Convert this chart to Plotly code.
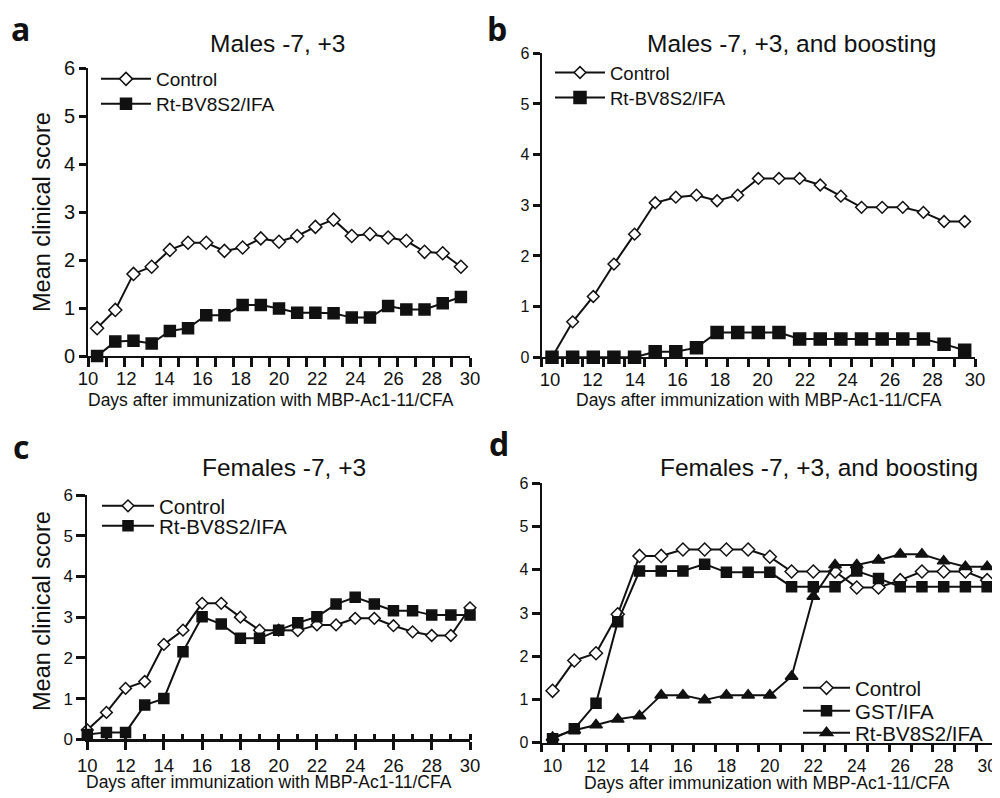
import plotly.graph_objects as go

# ---------------- data ----------------
days = list(range(10, 31))
tick_days = list(range(10, 31, 2))

a_control = [0.58, 0.96, 1.71, 1.86, 2.21, 2.36, 2.36, 2.19, 2.26, 2.45, 2.38,
             2.50, 2.69, 2.84, 2.50, 2.54, 2.47, 2.40, 2.17, 2.14, 1.86]
a_rt = [0.00, 0.30, 0.32, 0.26, 0.52, 0.58, 0.85, 0.85, 1.06, 1.06, 0.99,
        0.90, 0.90, 0.89, 0.80, 0.80, 1.04, 0.97, 0.97, 1.10, 1.23]

b_control = [0.00, 0.70, 1.20, 1.84, 2.43, 3.05, 3.16, 3.20, 3.09, 3.20, 3.53,
             3.53, 3.53, 3.40, 3.18, 2.96, 2.96, 2.96, 2.86, 2.68, 2.68]
b_rt = [0.00, 0.00, 0.00, 0.00, 0.00, 0.11, 0.11, 0.19, 0.49, 0.49, 0.49,
        0.49, 0.36, 0.36, 0.36, 0.36, 0.36, 0.36, 0.36, 0.26, 0.14]

c_control = [0.23, 0.66, 1.25, 1.42, 2.33, 2.68, 3.34, 3.34, 3.00, 2.68, 2.68,
             2.67, 2.81, 2.81, 2.97, 2.97, 2.79, 2.64, 2.55, 2.55, 3.23]
c_rt = [0.12, 0.17, 0.17, 0.84, 1.00, 2.15, 3.01, 2.83, 2.48, 2.48, 2.68,
        2.86, 3.01, 3.32, 3.49, 3.32, 3.16, 3.16, 3.05, 3.05, 3.05]

d_control = [1.20, 1.90, 2.07, 2.97, 4.32, 4.32, 4.47, 4.47, 4.47, 4.47, 4.30,
             3.96, 3.96, 3.96, 3.59, 3.59, 3.76, 3.96, 3.96, 3.96, 3.76]
d_gst = [0.09, 0.32, 0.91, 2.80, 3.97, 3.97, 3.97, 4.13, 3.94, 3.94, 3.94,
         3.61, 3.61, 3.61, 3.97, 3.80, 3.61, 3.61, 3.61, 3.61, 3.61]
d_rt = [0.12, 0.29, 0.41, 0.54, 0.62, 1.10, 1.10, 0.99, 1.10, 1.10, 1.10,
        1.53, 3.38, 4.11, 4.11, 4.22, 4.36, 4.36, 4.20, 4.07, 4.07]

titles = ["Males -7, +3", "Males -7, +3, and boosting",
          "Females -7, +3", "Females -7, +3, and boosting"]
panel_letters = ["a", "b", "c", "d"]
x_title = "Days after immunization with MBP-Ac1-11/CFA"
y_title = "Mean clinical score"
name_control = "Control"
name_rt = "Rt-BV8S2/IFA"
name_gst = "GST/IFA"

# ---------------- style / geometry ----------------
INK = "#111111"
TICK = "#111111"
TW = 3
CLEAR = "rgba(0,0,0,0)"
FONT = "Liberation Sans, Arial, sans-serif"
OFF = 8                      # page body margin
W, H = 1000 - OFF, 798 - OFF


def px(x):
    return (x - OFF) / W


def py(y):
    return 1 - (y - OFF) / H


fig = go.Figure()


def add(xa, ya, yvals, name, symbol, size, fill, legend):
    fig.add_trace(go.Scatter(
        x=days, y=yvals, xaxis=xa, yaxis=ya, name=name,
        mode="lines+markers", cliponaxis=False,
        line=dict(color=INK, width=2),
        marker=dict(symbol=symbol, size=size, color=fill,
                    line=dict(color=INK, width=1.5)),
        legend=legend, showlegend=True))


add("x", "y", a_control, name_control, "diamond", 10, "white", "legend")
add("x", "y", a_rt, name_rt, "square", 11, INK, "legend2")
add("x2", "y2", b_control, name_control, "diamond", 9, "white", "legend3")
add("x2", "y2", b_rt, name_rt, "square", 12, INK, "legend4")
add("x3", "y3", c_control, name_control, "diamond", 9, "white", "legend5")
add("x3", "y3", c_rt, name_rt, "square", 10, INK, "legend6")
add("x4", "y4", d_control, name_control, "diamond", 10, "white", "legend7")
add("x4", "y4", d_gst, name_gst, "square", 10, INK, "legend8")
add("x4", "y4", d_rt, name_rt, "triangle-up", 11, INK, "legend9")


def leg(x, y, size, itemwidth=50):
    return dict(x=px(x), y=py(y), xanchor="left", yanchor="middle",
                bgcolor="rgba(0,0,0,0)", borderwidth=0, itemwidth=itemwidth,
                font=dict(family=FONT, size=size, color=INK),
                tracegroupgap=0, itemclick=False, itemdoubleclick=False)


base_axis = dict(showgrid=False, zeroline=False, showline=True, linecolor=INK,
                 linewidth=2, tickcolor=TICK, tickwidth=TW)

# Excel-style category axis: boundary ticks between the days
bounds = [d - 0.5 for d in days] + [days[-1] + 0.5]
a_lab = [9.5 + (t - 10) * 21 / 20 for t in tick_days]
b_lab = [9.9 + (t - 10) * 20.6 / 20 for t in tick_days]


def cat_x(dom, anchor, label_pos, size, label_gap, minor_len):
    d = dict(base_axis)
    d.update(domain=[px(dom[0]), px(dom[1])], range=[9.5, 30.5], anchor=anchor,
             tickmode="array", tickvals=label_pos,
             ticktext=[str(t) for t in tick_days],
             ticks="outside", ticklen=label_gap, tickcolor=CLEAR,
             tickfont=dict(family=FONT, size=size, color=INK),
             minor=dict(tickmode="array", tickvals=bounds, ticks="outside",
                        ticklen=minor_len, tickwidth=TW, tickcolor=TICK))
    return d


def yax(dom, anchor, size, ticklen=7):
    d = dict(base_axis)
    d.update(domain=[py(dom[0]), py(dom[1])], range=[0, 6], anchor=anchor,
             tickmode="linear", tick0=0, dtick=1, ticks="outside", ticklen=ticklen,
             tickfont=dict(family=FONT, size=size, color=INK))
    return d


layout = dict(
    width=W, height=H, margin=dict(l=0, r=0, t=0, b=0, autoexpand=False),
    paper_bgcolor="white", plot_bgcolor="white", autosize=False,
    xaxis=cat_x((88, 470), "y", a_lab, 18.5, 5, 9),
    yaxis=yax((356, 68), "x", 20),
    xaxis2=cat_x((541.7, 975), "y2", b_lab, 18.5, 4, 8),
    yaxis2=yax((357.3, 53.3), "x2", 16),
    xaxis3=dict(base_axis, domain=[px(87.3), px(470)], range=[10, 30], anchor="y3",
                tickmode="linear", tick0=10, dtick=1, ticks="outside", ticklen=8,
                ticklabelstep=2, linewidth=2.5,
                tickfont=dict(family=FONT, size=18.5, color=INK),
                minor=dict(tickmode="array", tickvals=days, ticks="inside",
                           ticklen=6, tickwidth=TW, tickcolor=TICK)),
    yaxis3=yax((739.3, 495), "x3", 17, ticklen=9),
    xaxis4=cat_x((541.7, 998), "y4", tick_days, 17.5, 6, 7),
    yaxis4=yax((742.7, 483.3), "x4", 16, ticklen=8),
    legend=leg(96, 79, 19),
    legend2=leg(96, 104, 19),
    legend3=leg(550, 73, 18.5),
    legend4=leg(550, 98, 18.5),
    legend5=leg(97, 506, 20.5, 52),
    legend6=leg(97, 526, 20.5, 52),
    legend7=leg(798, 688, 20.5, 47),
    legend8=leg(798, 711, 20.5, 47),
    legend9=leg(798, 733, 20.5, 47),
)

annotations = []
title_pos = [(278, 43), (791, 43), (284, 467), (819, 467)]
for t, (x, y) in zip(titles, title_pos):
    annotations.append(dict(text=t, x=px(x), y=py(y), xref="paper", yref="paper",
                            xanchor="center", yanchor="middle", showarrow=False,
                            font=dict(family=FONT, size=24.5, color=INK)))
letter_pos = [(9, 28), (485, 28), (11, 447), (487, 443)]
for t, (x, y) in zip(panel_letters, letter_pos):
    annotations.append(dict(text="<b>" + t + "</b>", x=px(x), y=py(y), xref="paper",
                            yref="paper", xanchor="left", yanchor="middle",
                            showarrow=False,
                            font=dict(family="Open Sans, sans-serif", size=32, color=INK)))
xt_pos = [(271, 400), (759, 400), (269, 782), (767, 783)]
for (x, y) in xt_pos:
    annotations.append(dict(text=x_title, x=px(x), y=py(y), xref="paper", yref="paper",
                            xanchor="center", yanchor="middle", showarrow=False,
                            font=dict(family=FONT, size=17.5, color=INK)))
yt_pos = [(42, 212), (42, 611)]
for (x, y) in yt_pos:
    annotations.append(dict(text=y_title, x=px(x), y=py(y), xref="paper", yref="paper",
                            xanchor="center", yanchor="middle", showarrow=False,
                            textangle=-90,
                            font=dict(family=FONT, size=23.5, color=INK)))
layout["annotations"] = annotations

fig.update_layout(**layout)
fig.write_html("out.html")
